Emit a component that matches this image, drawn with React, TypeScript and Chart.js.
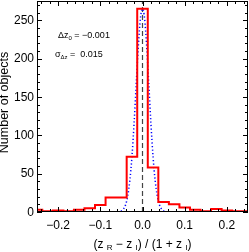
import React, { useEffect, useRef } from "react";
import { Chart, registerables } from "chart.js";
Chart.register(...registerables);

// ---- data ----
const binWidth = 0.025;
const binCenters = [-0.25, -0.225, -0.2, -0.175, -0.15, -0.125, -0.1, -0.075, -0.05, -0.025, 0, 0.025, 0.05, 0.075, 0.1, 0.125, 0.15, 0.175, 0.2, 0.225, 0.25];
const redCounts = [3, 1, 2, 1, 3, 5, 9, 19, 19, 72, 265, 58, 13, 10, 6, 3, 1, 4, 2, 1, 1];

const gaussX = [-0.25, -0.07, -0.06, -0.055, -0.05, -0.045, -0.04, -0.035, -0.03, -0.025, -0.02, -0.015, -0.01, -0.005, 0, 0.005, 0.01, 0.015, 0.02, 0.025, 0.03, 0.035, 0.04, 0.045, 0.05, 0.055, 0.06, 0.07, 0.25];
const gaussY = [0, 0, 0, 0.5, 1.5, 4, 9.5, 21, 41, 72, 115, 166, 215, 252, 265, 252, 215, 166, 115, 72, 41, 21, 9.5, 4, 1.5, 0.5, 0, 0, 0];

const xRange = [-0.25, 0.25];
const yRange = [0, 275];
const xTickValues = [-0.2, -0.1, 0, 0.1, 0.2];
const xTickLabels = ["\u22120.2", "\u22120.1", "0.0", "0.1", "0.2"];
const yTickValues = [0, 50, 100, 150, 200, 250];
const yTickLabels = ["0", "50", "100", "150", "200", "250"];
const xMinorStep = 0.02;
const yMinorStep = 10;
const deltaZ0 = "\u22120.001";
const sigmaDz = "0.015";
const yTitle = "Number of objects";

const FONT = "'Liberation Sans', Arial, Helvetica, sans-serif";

type Part = { t: string; sub?: boolean };

function drawRich(ctx: CanvasRenderingContext2D, parts: Part[], x: number, y: number, size: number, align: "left" | "center") {
  const subSize = Math.round(size * 0.68);
  let total = 0;
  for (const p of parts) {
    ctx.font = `${p.sub ? subSize : size}px ${FONT}`;
    total += ctx.measureText(p.t).width;
  }
  let cx = align === "center" ? x - total / 2 : x;
  ctx.textAlign = "left";
  ctx.textBaseline = "alphabetic";
  for (const p of parts) {
    ctx.font = `${p.sub ? subSize : size}px ${FONT}`;
    ctx.fillText(p.t, cx, p.sub ? y + size * 0.2 : y);
    cx += ctx.measureText(p.t).width;
  }
}

const framePlugin = {
  id: "frame",
  afterDraw(chart: any) {
    const ctx: CanvasRenderingContext2D = chart.ctx;
    const { left, right, top, bottom } = chart.chartArea;
    const xs = chart.scales.x;
    const ys = chart.scales.y;
    ctx.save();
    ctx.strokeStyle = "#000";
    ctx.lineWidth = 1;
    ctx.strokeRect(left + 0.5, top + 0.5, right - left - 1, bottom - top - 1);

    const major = 5, minor = 3;
    ctx.beginPath();
    const nx0 = Math.ceil(xRange[0] / xMinorStep - 1e-9);
    const nx1 = Math.floor(xRange[1] / xMinorStep + 1e-9);
    for (let i = nx0; i <= nx1; i++) {
      const v = i * xMinorStep;
      const px = Math.round(xs.getPixelForValue(v)) + 0.5;
      ctx.moveTo(px, bottom); ctx.lineTo(px, bottom - minor);
      ctx.moveTo(px, top); ctx.lineTo(px, top + minor);
    }
    for (const v of xTickValues) {
      const px = Math.round(xs.getPixelForValue(v)) + 0.5;
      ctx.moveTo(px, bottom); ctx.lineTo(px, bottom - major);
      ctx.moveTo(px, top); ctx.lineTo(px, top + major);
    }
    for (let v = yRange[0]; v <= yRange[1] + 1e-9; v += yMinorStep) {
      const py = Math.round(ys.getPixelForValue(v)) + 0.5;
      ctx.moveTo(left, py); ctx.lineTo(left + minor, py);
      ctx.moveTo(right, py); ctx.lineTo(right - minor, py);
    }
    for (const v of yTickValues) {
      const py = Math.round(ys.getPixelForValue(v)) + 0.5;
      ctx.moveTo(left, py); ctx.lineTo(left + major, py);
      ctx.moveTo(right, py); ctx.lineTo(right - major, py);
    }
    ctx.stroke();

    ctx.fillStyle = "#000";
    ctx.font = `12px ${FONT}`;
    ctx.textAlign = "center";
    ctx.textBaseline = "alphabetic";
    xTickValues.forEach((v, i) => {
      ctx.fillText(xTickLabels[i], xs.getPixelForValue(v), bottom + 17);
    });
    ctx.textAlign = "right";
    ctx.textBaseline = "middle";
    yTickValues.forEach((v, i) => {
      ctx.fillText(yTickLabels[i], left - 3, ys.getPixelForValue(v) + 0.5);
    });

    drawRich(ctx, [
      { t: "(z " }, { t: "R", sub: true }, { t: " \u2212 z " }, { t: "I", sub: true },
      { t: ") / (1 + z " }, { t: "I", sub: true }, { t: ")" },
    ], (left + right) / 2, bottom + 36, 12, "center");

    ctx.save();
    ctx.translate(5, (top + bottom) / 2 - 4);
    ctx.rotate(-Math.PI / 2);
    ctx.font = `12.5px ${FONT}`;
    ctx.textAlign = "center";
    ctx.textBaseline = "middle";
    ctx.fillText(yTitle, 0, 0);
    ctx.restore();

    drawRich(ctx, [{ t: "\u0394z" }, { t: "0", sub: true }, { t: " = " + deltaZ0 }], left + 21, top + 37, 9, "left");
    drawRich(ctx, [{ t: "\u03c3" }, { t: "\u0394z", sub: true }, { t: " =  " + sigmaDz }], left + 18, top + 56, 9, "left");
    ctx.restore();
  },
};

export default function App() {
  const ref = useRef<HTMLCanvasElement>(null);
  useEffect(() => {
    const canvas = ref.current!;
    const histPts: { x: number; y: number }[] = binCenters.map((c, i) => ({ x: c - binWidth / 2, y: redCounts[i] }));
    histPts.push({ x: binCenters[binCenters.length - 1] + binWidth / 2, y: redCounts[redCounts.length - 1] });
    const gaussPts = gaussX.map((x, i) => ({ x, y: gaussY[i] }));
    const chart = new Chart(canvas, {
      type: "line",
      data: {
        datasets: [
          {
            data: histPts,
            stepped: "before",
            borderColor: "rgb(255,0,0)",
            borderWidth: 2,
            pointRadius: 0,
            fill: false,
          } as any,
          {
            data: gaussPts,
            borderColor: "rgb(0,0,255)",
            borderWidth: 1.5,
            borderDash: [1.2, 2.3],
            pointRadius: 0,
            cubicInterpolationMode: "monotone",
            fill: false,
          },
          {
            data: [{ x: 0, y: yRange[0] }, { x: 0, y: yRange[1] }],
            borderColor: "#444",
            borderWidth: 1.2,
            borderDash: [5, 3],
            pointRadius: 0,
            fill: false,
          },
        ],
      },
      options: {
        responsive: false,
        animation: false,
        layout: { padding: { left: 37, top: 1, right: 1, bottom: 40 } },
        plugins: { legend: { display: false }, tooltip: { enabled: false } },
        scales: {
          x: { type: "linear", min: xRange[0], max: xRange[1], display: false },
          y: { type: "linear", min: yRange[0], max: yRange[1], display: false },
        },
      },
      plugins: [framePlugin],
    });
    return () => chart.destroy();
  }, []);
  return (
    <div style={{ position: "fixed", left: 0, top: 0, width: 249, height: 252, background: "#fff" }}>
      <canvas ref={ref} width={249} height={252} style={{ width: 249, height: 252, display: "block" }} />
    </div>
  );
}
